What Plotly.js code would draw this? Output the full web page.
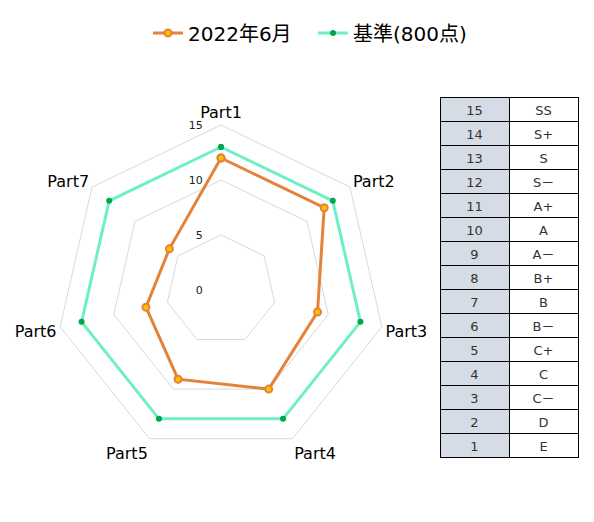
<!DOCTYPE html>
<html>
<head>
<meta charset="utf-8">
<script src="https://cdn.plot.ly/plotly-3.0.1.min.js"></script>
<style>
  html, body { margin: 0; padding: 0; background: #fff; }
  #chart { width: 594px; height: 522px; }
</style>
</head>
<body>
<div id="chart"></div>
<script>
// Radar data
const parts = ['Part1', 'Part2', 'Part3', 'Part4', 'Part5', 'Part6', 'Part7'];
const june2022 = [12, 12, 9, 10, 9, 7, 6];
const baseline = [13, 13, 13, 13, 13, 13, 13];

// Score -> grade table
const scores = ['15', '14', '13', '12', '11', '10', '9', '8', '7', '6', '5', '4', '3', '2', '1'];
const grades = ['SS', 'S+', 'S', 'S－', 'A+', 'A', 'A－', 'B+', 'B', 'B－', 'C+', 'C', 'C－', 'D', 'E'];

const FONT = 'DejaVu Sans, "Noto Sans CJK JP", sans-serif';

// close the polygons
const close = arr => arr.concat([arr[0]]);

const traces = [
    {
        type: 'scatterpolar',
        name: '2022年6月',
        r: close(june2022),
        theta: close(parts),
        mode: 'lines+markers',
        line: { color: '#e5823a', width: 3 },
        marker: { size: 7, color: '#ffc000', line: { color: '#e5823a', width: 2 } }
    },
    {
        type: 'scatterpolar',
        name: '基準(800点)',
        r: close(baseline),
        theta: close(parts),
        mode: 'lines+markers',
        line: { color: '#6ef0c4', width: 3 },
        marker: { size: 6, color: '#00a651' }
    },
    {
        type: 'table',
        domain: { x: [440 / 594, 578 / 594], y: [1 - 459 / 522, 1 - 97 / 522] },
        columnwidth: [1, 1],
        header: {
            values: [scores[0], grades[0]],
            height: 24,
            align: 'center',
            fill: { color: ['#d6dce5', '#ffffff'] },
            line: { color: '#000', width: 1 },
            font: { family: FONT, size: 13, color: '#333' }
        },
        cells: {
            values: [scores.slice(1), grades.slice(1)],
            height: 24,
            align: 'center',
            fill: { color: ['#d6dce5', '#ffffff'] },
            line: { color: '#000', width: 1 },
            font: { family: FONT, size: 13, color: '#333' }
        }
    }
];

const layout = {
    width: 594,
    height: 522,
    margin: { t: 0, b: 0, l: 0, r: 0 },
    paper_bgcolor: '#fff',
    font: { family: FONT, color: '#000' },
    showlegend: true,
    legend: {
        orientation: 'h',
        x: 148 / 594, xanchor: 'left',
        y: 1 - 33 / 522, yanchor: 'middle',
        font: { size: 20, family: FONT },
        entrywidth: 120,
        itemwidth: 30
    },
    polar: {
        domain: { x: [56 / 594, 386 / 594], y: [67 / 522, 397 / 522] },
        bgcolor: '#fff',
        gridshape: 'linear',
        radialaxis: {
            range: [0, 15],
            dtick: 5,
            angle: 90,
            side: 'counterclockwise',
            tickangle: 90,
            showline: false,
            ticks: 'outside',
            ticklen: 14,
            tickcolor: 'rgba(0,0,0,0)',
            gridcolor: '#d9d9d9',
            tickfont: { size: 11, color: '#222' }
        },
        angularaxis: {
            direction: 'clockwise',
            rotation: 90,
            showgrid: false,
            showline: true,
            linecolor: '#d9d9d9',
            ticks: '',
            tickfont: { size: 16, color: '#000' }
        }
    }
};

Plotly.newPlot('chart', traces, layout, { displayModeBar: false, staticPlot: true });
</script>
</body>
</html>
